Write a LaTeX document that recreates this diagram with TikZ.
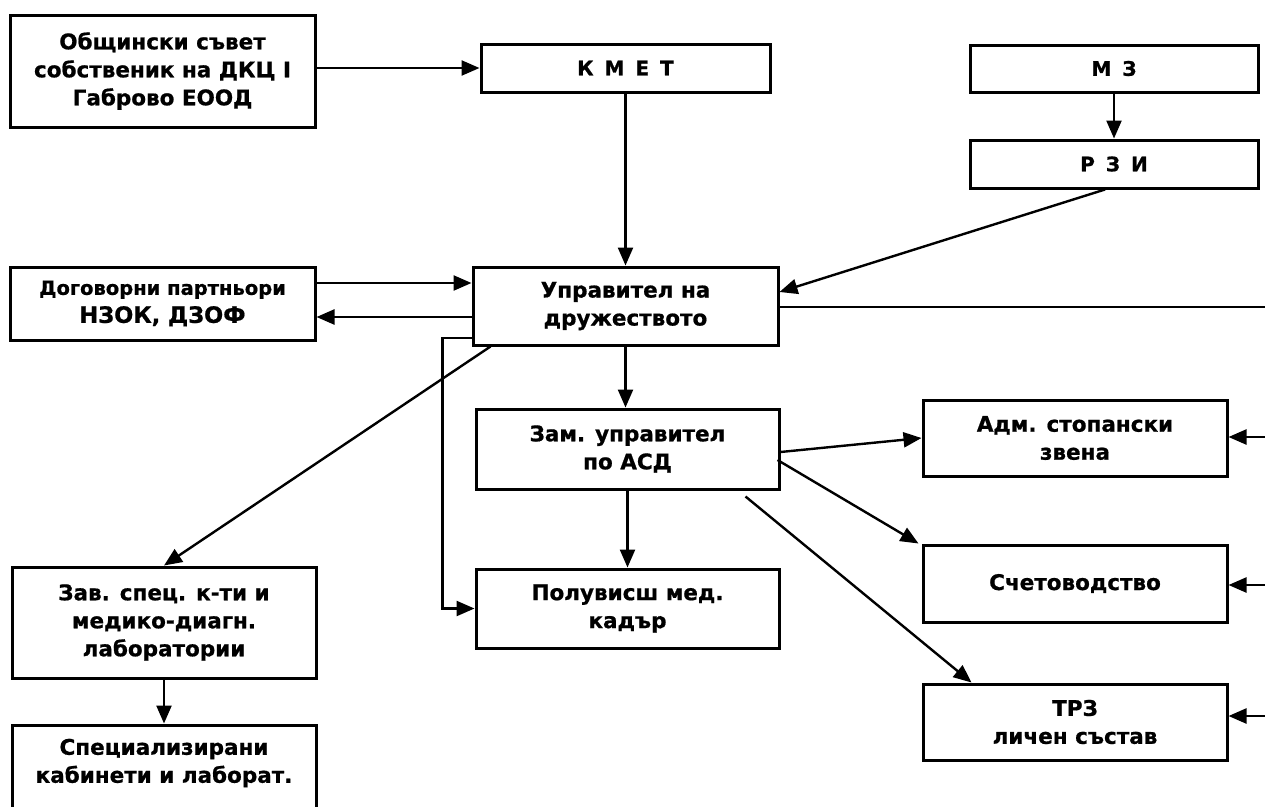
\documentclass[tikz,border=0pt]{standalone}
\usepackage{fontspec}
\setmainfont{DejaVu Sans}[BoldFeatures={FakeBold=0.8}]
\usetikzlibrary{arrows.meta}
\tikzset{
  box/.style={draw, line width=3pt, rectangle, inner sep=0pt, align=center,
    font=\fontsize{21.5}{28}\selectfont\bfseries},
  small/.style={font=\fontsize{20}{24}\selectfont\bfseries},
  ln/.style={line width=2.4pt},
  arr/.style={line width=2.4pt, -{Triangle[length=18pt,width=15pt]}},
}
\newcommand{\gap}{\hspace{0.55em}}
\begin{document}
\begin{tikzpicture}[x=1pt,y=-1pt]
\useasboundingbox (0,0) rectangle (1265,806);
\clip (0,0) rectangle (1265,806);
\fill[white] (0,0) rectangle (1265,806);
\coordinate (edge) at (1267,0);
% boxes
\node[box, minimum width=305pt, minimum height=112pt] (ob) at (162.5,71) {Общински съвет\\собственик на ДКЦ I\\Габрово ЕООД};
\node[box, small, minimum width=289pt, minimum height=48pt] (kmet) at (625.5,68) {К\gap М\gap Е\gap Т};
\node[box, small, minimum width=288pt, minimum height=47pt] (mz) at (1114,68.5) {М\gap З};
\node[box, small, minimum width=288pt, minimum height=48pt] (rzi) at (1114,164) {Р\gap З\gap И};
\node[box, minimum width=305pt, minimum height=73pt] (dog) at (162.5,303.5) {{\fontsize{19.5}{28}\selectfont Договорни партньори}\\{\fontsize{22.5}{28}\selectfont НЗОК, ДЗОФ}};
\node[box, minimum width=305pt, minimum height=78pt] (upr) at (625.5,306) {Управител на\\дружеството};
\node[box, minimum width=303pt, minimum height=80pt] (zam) at (627.5,449) {Зам. управител\\по АСД};
\node[box, minimum width=303pt, minimum height=79pt] (pol) at (627.5,608.5) {Полувисш мед.\\кадър};
\node[box, minimum width=304pt, minimum height=111pt] (zav) at (164,622.5) {Зав. спец. к-ти и\\медико-диагн.\\лаборатории};
\node[box, minimum width=304pt, minimum height=90pt] (spec) at (164,770) {};
\node[font=\fontsize{21.5}{28}\selectfont\bfseries, align=center] (spect) at (164,763) {Специализирани\\кабинети и лаборат.};
\node[box, minimum width=304pt, minimum height=76pt] (adm) at (1075,438) {Адм. стопански\\звена};
\node[box, minimum width=304pt, minimum height=77pt] (sch) at (1075,583.5) {Счетоводство};
\node[box, minimum width=304pt, minimum height=76pt] (trz) at (1075,722) {ТРЗ\\личен състав};
% connectors
\draw[arr] (ob.east |- kmet.west) -- (kmet.west);
\draw[arr] (kmet.south) -- (upr.north);
\draw[arr] (mz.south) -- (rzi.north);
\draw[arr] ([xshift=-9pt]rzi.south) -- ([yshift=14pt]upr.east);
\draw[arr] ([yshift=20.5pt]dog.east) -- ([yshift=20.5pt]dog.east -| upr.west);
\draw[arr] ([yshift=-11pt]upr.west) -- ([yshift=-11pt]upr.west -| dog.east);
\draw[arr] ([yshift=-32pt]upr.west) -| ([xshift=-32pt]pol.west) -- (pol.west);
\draw[arr] ([xshift=19pt]upr.south west) -- (zav.north);
\draw[arr] (upr.south) -- (upr.south |- zam.north);
\draw[arr] (zam.south) -- (pol.north);
\draw[arr] (zav.south) -- (spec.north);
\draw[arr] ([yshift=-3pt]zam.east) -- (adm.west);
\draw[arr] ([shift={(-3pt,-11pt)}]zam.east) -- ([xshift=-3pt]sch.north west);
\draw[arr] ([shift={(-35pt,-6pt)}]zam.south east) -- ([xshift=50pt]trz.north west);
\draw[ln] ([yshift=-1pt]upr.east) -- ([yshift=-1pt]upr.east -| edge);
\draw[arr] ([yshift=1pt]adm.east -| edge) -- ([yshift=1pt]adm.east);
\draw[arr] ([yshift=-1.5pt]sch.east -| edge) -- ([yshift=-1.5pt]sch.east);
\draw[arr] ([yshift=6pt]trz.east -| edge) -- ([yshift=6pt]trz.east);
\end{tikzpicture}
\end{document}
